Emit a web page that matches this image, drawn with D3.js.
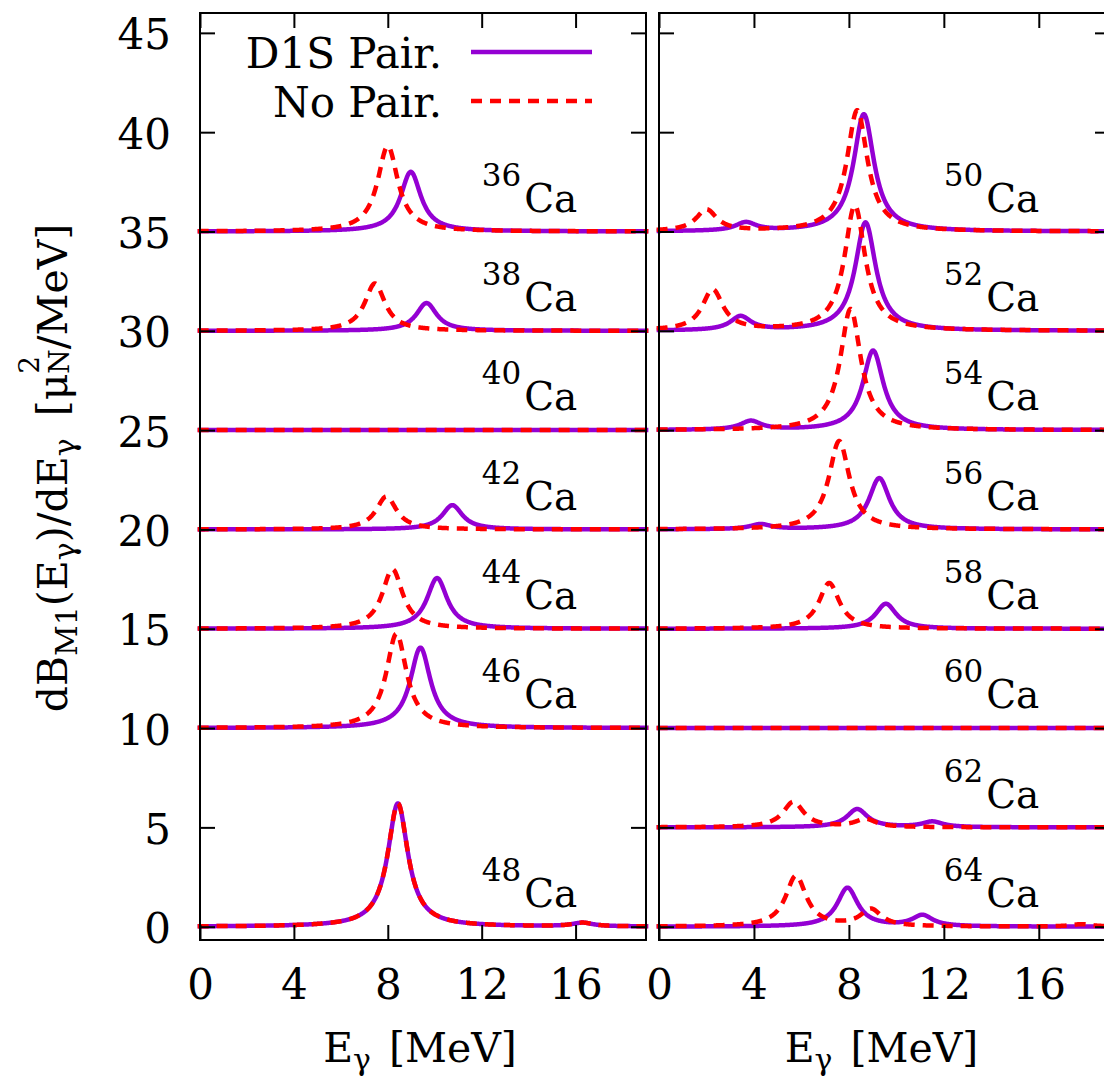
<!DOCTYPE html>
<html>
<head>
<meta charset="utf-8">
<script src="https://cdn.jsdelivr.net/npm/d3@7"></script>
<style>
body { margin: 0; background: #fff; }
</style>
</head>
<body>
<svg width="1104" height="1078"></svg>
<script>
// axis ticks
var energyTicks = [0, 4, 8, 12, 16];
var strengthTicks = [0, 5, 10, 15, 20, 25, 30, 35, 40, 45];

// nuclei of each panel and the vertical shift of their curves
var leftNuclei = ["36", "38", "40", "42", "44", "46", "48"];
var leftOffsets = [35, 30, 25, 20, 15, 10, 0];
var rightNuclei = ["50", "52", "54", "56", "58", "60", "62", "64"];
var rightOffsets = [35, 30, 25, 20, 15, 10, 5, 0];

// peaks [E (MeV), height], same order as the nuclei
var d1sLeft = [
    [[8.98, 3.0]],
    [[9.65, 1.4]],
    [],
    [[10.75, 1.22]],
    [[10.1, 2.55]],
    [[9.39, 4.05]],
    [[8.43, 6.2], [16.3, 0.18]]
];
var noPairLeft = [
    [[8.0, 4.3]],
    [[7.45, 2.38]],
    [],
    [[7.94, 1.66]],
    [[8.2, 3.0]],
    [[8.37, 4.75]],
    [[8.43, 6.2], [16.3, 0.18]]
];
var d1sRight = [
    [[8.63, 5.9], [3.66, 0.42]],
    [[8.7, 5.45], [3.44, 0.7]],
    [[9.02, 4.0], [3.87, 0.44]],
    [[9.28, 2.58], [4.28, 0.25]],
    [[9.56, 1.26]],
    [],
    [[8.35, 0.92], [11.52, 0.28]],
    [[7.94, 1.95], [11.1, 0.55]]
];
var noPairRight = [
    [[8.35, 6.1], [2.0, 1.08]],
    [[8.25, 6.3], [2.26, 2.05]],
    [[8.07, 6.1]],
    [[7.59, 4.45]],
    [[7.17, 2.3]],
    [],
    [[5.66, 1.28], [8.7, 0.4]],
    [[5.77, 2.55], [8.93, 0.85], [17.8, 0.12]]
];

var fwhm = 1.05; // Lorentzian folding width, MeV
var serif = "'DejaVu Serif', 'Liberation Serif', serif";

var svg = d3.select("svg").attr("font-family", serif);

var y = d3.scaleLinear().domain([-0.67, 46]).range([940, 13]);
var grid = d3.range(-0.1, 19.1, 0.02);

// strength function = offset + sum of Lorentzians
function curve(peaks, offset) {
    return grid.map(function(e) {
        var s = offset;
        peaks.forEach(function(p) {
            var t = (e - p[0]) / (fwhm / 2);
            s += p[1] / (1 + t * t);
        });
        return [e, s];
    });
}

function drawPanel(x0, x1, nuclei, offsets, d1s, noPair, withLabels) {
    var x = d3.scaleLinear().domain([0, 19]).range([x0, x1]);
    var g = svg.append("g");

    var line = d3.line()
        .x(function(d) { return x(d[0]); })
        .y(function(d) { return y(d[1]); });

    // purple solid first, red dashed on top
    g.selectAll(".d1s")
        .data(nuclei)
        .enter().append("path")
        .attr("class", "d1s")
        .attr("d", function(d, i) { return line(curve(d1s[i], offsets[i])); })
        .attr("fill", "none")
        .attr("stroke", "#9400d3")
        .attr("stroke-width", 4.5);

    g.selectAll(".nopair")
        .data(nuclei)
        .enter().append("path")
        .attr("class", "nopair")
        .attr("d", function(d, i) { return line(curve(noPair[i], offsets[i])); })
        .attr("fill", "none")
        .attr("stroke", "#ff0000")
        .attr("stroke-width", 4.5)
        .attr("stroke-dasharray", "11,8");

    // nucleus labels
    var lab = g.selectAll(".lab")
        .data(nuclei)
        .enter().append("text")
        .attr("class", "lab")
        .attr("font-family", serif)
        .attr("x", x(12))
        .attr("y", function(d, i) { return y(offsets[i] + 1.0); });
    lab.append("tspan")
        .attr("font-size", 31)
        .attr("dy", -26)
        .text(function(d) { return d; });
    lab.append("tspan")
        .attr("font-size", 39)
        .attr("dx", 3)
        .attr("dy", 26)
        .text("Ca");

    // inward ticks on all four sides
    var fmt = function(v) { return v; };
    var bottom = g.append("g").attr("transform", "translate(0,940)")
        .call(d3.axisBottom(x).tickValues(energyTicks).tickSize(-15).tickSizeOuter(0).tickFormat(fmt));
    bottom.selectAll("text").attr("y", 59).attr("dy", 0).attr("font-size", 42);
    g.append("g").attr("transform", "translate(0,13)")
        .call(d3.axisTop(x).tickValues(energyTicks).tickSize(-15).tickSizeOuter(0).tickFormat(""));
    var left = g.append("g").attr("transform", "translate(" + x0 + ",0)")
        .call(d3.axisLeft(y).tickValues(strengthTicks).tickSize(-15).tickSizeOuter(0)
            .tickFormat(withLabels ? fmt : ""));
    left.selectAll("text").attr("x", -29).attr("dy", 16).attr("font-size", 42);
    g.append("g").attr("transform", "translate(" + x1 + ",0)")
        .call(d3.axisRight(y).tickValues(strengthTicks).tickSize(-15).tickSizeOuter(0).tickFormat(""));

    g.selectAll(".domain").remove();
    g.selectAll(".tick line").attr("stroke", "#000").attr("stroke-width", 2);
    g.selectAll("g").attr("font-family", serif);
    g.selectAll(".tick text").attr("font-family", serif).attr("fill", "#000");

    g.append("rect")
        .attr("x", x0).attr("y", 13)
        .attr("width", x1 - x0).attr("height", 927)
        .attr("fill", "none")
        .attr("stroke", "#000")
        .attr("stroke-width", 2);

    // x axis title
    var xt = g.append("text")
        .attr("font-family", serif)
        .attr("x", (x0 + x1) / 2 - 3)
        .attr("y", 1062)
        .attr("text-anchor", "middle")
        .attr("font-size", 41);
    xt.append("tspan").text("E");
    xt.append("tspan").attr("font-size", 30).attr("dy", 8).text("γ");
    xt.append("tspan").attr("dx", 18).attr("dy", -8).text("[MeV]");
}

drawPanel(200, 646, leftNuclei, leftOffsets, d1sLeft, noPairLeft, true);
drawPanel(659, 1110, rightNuclei, rightOffsets, d1sRight, noPairRight, false);

// legend
var legend = svg.append("g").attr("font-family", serif);
legend.append("text").attr("x", 442).attr("y", 68)
    .attr("text-anchor", "end").attr("font-size", 42).text("D1S Pair.");
legend.append("text").attr("x", 442).attr("y", 117)
    .attr("text-anchor", "end").attr("font-size", 42).text("No Pair.");
legend.append("line").attr("x1", 471).attr("x2", 592).attr("y1", 52).attr("y2", 52)
    .attr("stroke", "#9400d3").attr("stroke-width", 4.5);
legend.append("line").attr("x1", 471).attr("x2", 592).attr("y1", 101).attr("y2", 101)
    .attr("stroke", "#ff0000").attr("stroke-width", 4.5).attr("stroke-dasharray", "11,8");

// y axis title
var yt = svg.append("text")
    .attr("font-family", serif)
    .attr("transform", "translate(67,468) rotate(-90)")
    .attr("text-anchor", "middle")
    .attr("font-size", 41);
yt.append("tspan").text("dB");
yt.append("tspan").attr("font-size", 30).attr("dy", 10).text("M1");
yt.append("tspan").attr("dy", -10).text("(E");
yt.append("tspan").attr("font-size", 30).attr("dy", 8).text("γ");
yt.append("tspan").attr("dy", -8).text(")/dE");
yt.append("tspan").attr("font-size", 30).attr("dy", 8).text("γ");
yt.append("tspan").attr("dx", 22).attr("dy", -8).text("[μ");
yt.append("tspan").attr("font-size", 28).attr("dy", -28).text("2");
yt.append("tspan").attr("font-size", 28).attr("dx", -18).attr("dy", 30).text("N");
yt.append("tspan").attr("dy", -2).text("/MeV]");
</script>
</body>
</html>
